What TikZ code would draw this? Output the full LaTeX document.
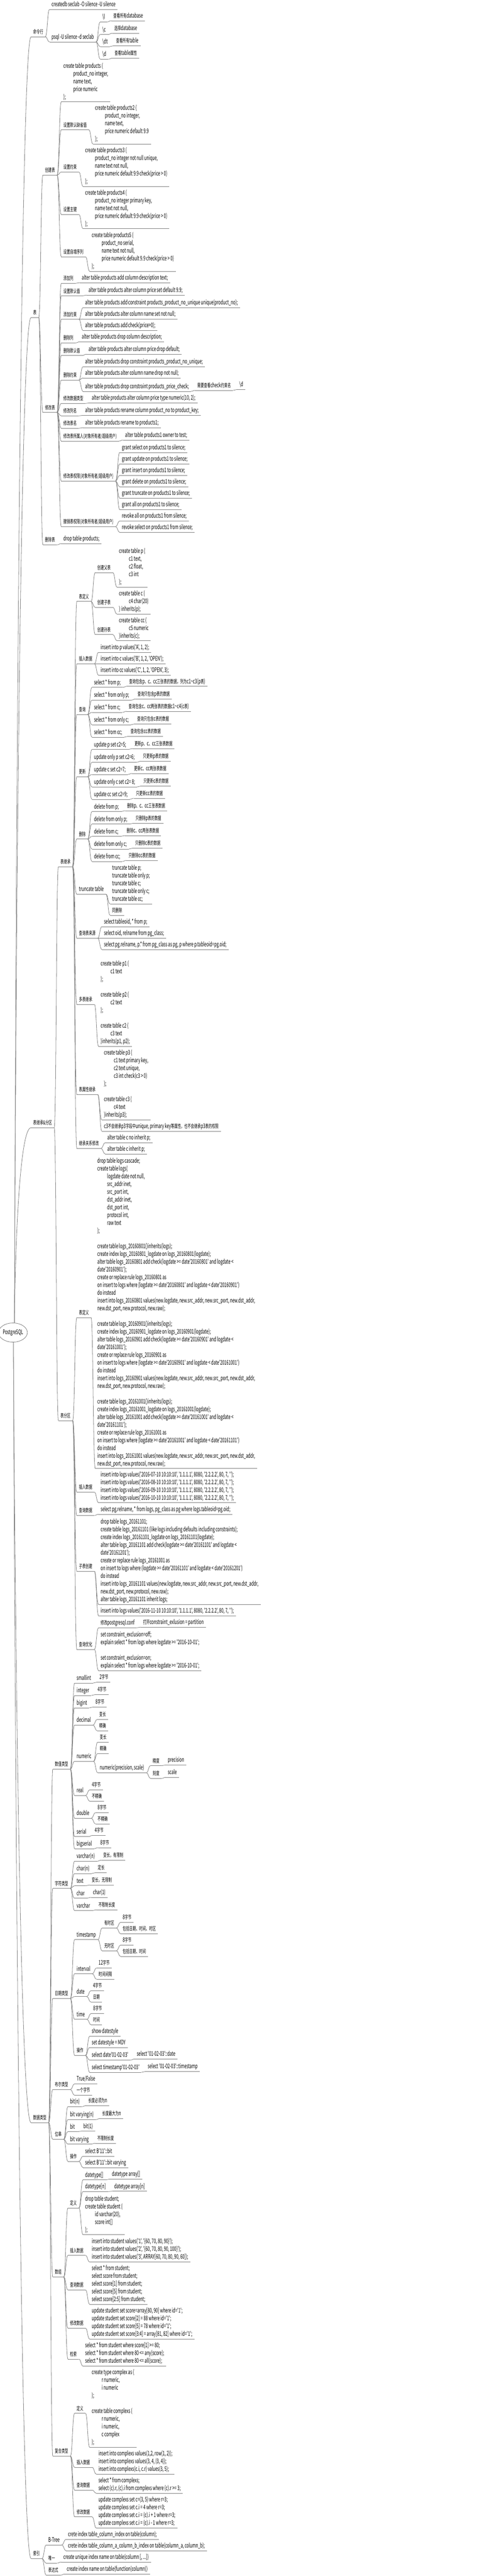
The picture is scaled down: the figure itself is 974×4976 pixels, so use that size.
\documentclass[tikz,border=0pt]{standalone}
\usepackage{fontspec}
\usetikzlibrary{calc,shapes.geometric}
\newfontfamily\mf[FakeStretch=0.61]{Noto Sans CJK SC}
\newcommand\z[1]{{\fontsize{10.5}{15}\selectfont #1}}
\newcommand\ind{\hspace*{19pt}}
\definecolor{lc}{RGB}{128,128,128}
\tikzset{
  tn/.style={anchor=south west, inner xsep=4pt, inner ysep=1pt, align=left,
    font={\mf\fontsize{12}{15}\selectfont}, execute at end node={\strut}},
  ul/.style={draw=lc, line width=0.8pt},
  cn/.style={draw=lc, line width=0.8pt},
  rootnode/.style={ellipse, draw=lc, line width=0.8pt, fill=white, minimum width=48pt,
    minimum height=37pt, inner sep=0pt, font={\mf\fontsize{12}{15}\selectfont}}
}
\newcommand\kid[5][]{%
  \path let \p1=(#3.south east) in node[tn,#1] (#2) at (\x1+8pt,-#4pt) {#5};
  \draw[ul] (#2.south west) -- (#2.south east);
  \draw[cn] (#3.south east) .. controls +(4pt,0) and +(-4pt,0) .. (#2.south west);
}
\newcommand\lone[3]{%
  \node[tn] (#1) at (60pt,-#2pt) {#3};
  \draw[ul] (#1.south west) -- (#1.south east);
}
\begin{document}
\begin{tikzpicture}
\fill[white] (0,0) rectangle (974pt,-4976pt);
\useasboundingbox (0,0) rectangle (974pt,-4976pt);

% ---------- level 1 ----------
\lone{A}{71}{\z{命令行}}
\lone{B}{613.3}{\z{表}}
\lone{C}{2178.3}{\z{表继承\&分区}}
\lone{D}{4100.3}{\z{数据类型}}
\lone{E}{4942.3}{\z{索引}}

% ---------- 命令行 ----------
\kid{A1}{A}{18.3}{createdb seclab -O silence -U silence}
\kid{A2}{A}{81}{psql -U silence -d seclab}
\kid[minimum width=13pt]{A21}{A2}{42.3}{\textbackslash l}
\kid{A211}{A21}{40}{\z{查看所有}database}
\kid[minimum width=13pt]{A22}{A2}{66.7}{\textbackslash c}
\kid{A221}{A22}{64.3}{\z{选择}database}
\kid[minimum width=13pt]{A23}{A2}{90}{\textbackslash dt}
\kid{A231}{A23}{88.3}{\z{查看所有}table}
\kid[minimum width=13pt]{A24}{A2}{114.3}{\textbackslash d}
\kid{A241}{A24}{112.3}{\z{查看}table\z{属性}}

% ---------- 表 ----------
\kid{B1}{B}{338.3}{\z{创建表}}
\kid{B11}{B1}{196.7}{create table products (\\\ind product\_no integer,\\\ind name text,\\\ind price numeric\\);}
\kid{B12}{B1}{250.7}{\z{设置默认缺省值}}
\kid{B121}{B12}{278.3}{create table products2 (\\\ind product\_no integer,\\\ind name text,\\\ind price numeric default 9.9\\);}
\kid{B13}{B1}{332.3}{\z{设置约束}}
\kid{B131}{B13}{360}{create table products3 (\\\ind product\_no integer not null unique,\\\ind name text not null,\\\ind price numeric default 9.9 check(price > 0)\\);}
\kid{B14}{B1}{414.3}{\z{设置主键}}
\kid{B141}{B14}{441.7}{create table products4 (\\\ind product\_no integer primary key,\\\ind name text not null,\\\ind price numeric default 9.9 check(price > 0)\\);}
\kid{B15}{B1}{496}{\z{设置自增序列}}
\kid{B151}{B15}{524}{create table products5 (\\\ind product\_no serial,\\\ind name text not null,\\\ind price numeric default 9.9 check(price > 0)\\);}

\kid{B2}{B}{796.7}{\z{修改表}}
\kid{B21}{B2}{547.3}{\z{添加列}}
\kid{B211}{B21}{546}{alter table products add column description text;}
\kid{B22}{B2}{571.7}{\z{设置默认值}}
\kid{B221}{B22}{570}{alter table products alter column price set default 9.9;}
\kid{B23}{B2}{616.7}{\z{添加约束}}
\kid{B231}{B23}{594.3}{alter table products add constraint products\_product\_no\_unique unique(product\_no);}
\kid{B232}{B23}{616.3}{alter table products alter column name set not null;}
\kid{B233}{B23}{638.3}{alter table products add check(price>0);}
\kid{B24}{B2}{662.3}{\z{删除列}}
\kid{B241}{B24}{660.3}{alter table products drop column description;}
\kid{B25}{B2}{686.7}{\z{删除默认值}}
\kid{B251}{B25}{684.3}{alter table products alter column price drop default;}
\kid{B26}{B2}{734.3}{\z{删除约束}}
\kid{B261}{B26}{708.3}{alter table products drop constraint products\_product\_no\_unique;}
\kid{B262}{B26}{730}{alter table products alter column name drop not null;}
\kid{B263}{B26}{756}{alter table products drop constraint products\_price\_check;}
\kid{B2631}{B263}{754}{\z{需要查看}check\z{约束名}}
\kid{B2632}{B2631}{752.3}{\textbackslash d}
\kid{B27}{B2}{779.3}{\z{修改数据类型}}
\kid{B271}{B27}{778.3}{alter table products alter column price type numeric(10, 2);}
\kid{B28}{B2}{803.3}{\z{修改列名}}
\kid{B281}{B28}{802.3}{alter table products rename column product\_no to product\_key;}
\kid{B29}{B2}{827.3}{\z{修改表名}}
\kid{B291}{B29}{826}{alter table products rename to products1;}
\kid{B2a}{B2}{852}{\z{修改表所属人(对象所有者/超级用户)}}
\kid{B2a1}{B2a}{850}{alter table products1 owner to test;}
\kid{B2b}{B2}{929.3}{\z{修改表权限(对象所有者/超级用户)}}
\kid{B2b1}{B2b}{874}{grant select on products1 to silence;}
\kid{B2b2}{B2b}{896}{grant update on products1 to silence;}
\kid{B2b3}{B2b}{918.3}{grant insert on products1 to silence;}
\kid{B2b4}{B2b}{940.3}{grant delete on products1 to silence;}
\kid{B2b5}{B2b}{962.3}{grant truncate on products1 to silence;}
\kid{B2b6}{B2b}{984.3}{grant all on products1 to silence;}
\kid{B2c}{B2}{1017.3}{\z{撤销表权限(对象所有者/超级用户)}}
\kid{B2c1}{B2c}{1006.3}{revoke all on products1 from silence;}
\kid{B2c2}{B2c}{1028.3}{revoke select on products1 from silence;}
\kid{B3}{B}{1052.3}{\z{删除表}}
\kid{B31}{B3}{1050}{drop table products;}

% ---------- 表继承&分区 ----------
\kid{C1}{C}{1674.3}{\z{表继承}}
\kid{C11}{C1}{1161.7}{\z{表定义}}
\kid{C111}{C11}{1106}{\z{创建父表}}
\kid{C1111}{C111}{1134}{create table p (\\\ind c1 text,\\\ind c2 float,\\\ind c3 int\\);}
\kid{C112}{C11}{1173.3}{\z{创建子表}}
\kid{C1121}{C112}{1186}{create table c (\\\ind c4 char(20)\\) inherits(p);}
\kid{C113}{C11}{1225.7}{\z{创建孙表}}
\kid{C1131}{C113}{1237.7}{create table cc (\\\ind c5 numeric\\)inherits(c);}
\kid{C12}{C1}{1282.3}{\z{插入数据}}
\kid{C121}{C12}{1260}{insert into p values('A', 1, 2);}
\kid{C122}{C12}{1282.3}{insert into c values('B', 1, 2, 'OPEN');}
\kid{C123}{C12}{1304.3}{insert into cc values('C', 1, 2, 'OPEN', 3);}
\kid{C13}{C1}{1380}{\z{查询}}
\kid{C131}{C13}{1327.7}{select * from p;}
\kid{C1311}{C131}{1325.7}{\z{查询包含}p\z{、}c\z{、}cc\z{三张表的数据，列为}c1\textasciitilde c3(p\z{表})}
\kid{C132}{C13}{1352.3}{select * from only p;}
\kid{C1321}{C132}{1350.3}{\z{查询只包含}p\z{表的数据}}
\kid{C133}{C13}{1376}{select * from c;}
\kid{C1331}{C133}{1374}{\z{查询包含}c\z{、}cc\z{两张表的数据}c1\textasciitilde c4(c\z{表})}
\kid{C134}{C13}{1400}{select * from only c;}
\kid{C1341}{C134}{1398.3}{\z{查询只包含}c\z{表的数据}}
\kid{C135}{C13}{1424}{select * from cc;}
\kid{C1351}{C135}{1422.3}{\z{查询包含}cc\z{表的数据}}
\kid{C14}{C1}{1500.3}{\z{更新}}
\kid{C141}{C14}{1447.7}{update p set c2=5;}
\kid{C1411}{C141}{1446}{\z{更新}p\z{、}c\z{、}cc\z{三张表数据}}
\kid{C142}{C14}{1472.3}{update only p set c2=6;}
\kid{C1421}{C142}{1470.3}{\z{只更新}p\z{表的数据}}
\kid{C143}{C14}{1496}{update c set c2=7;}
\kid{C1431}{C143}{1494}{\z{更新}c\z{、}cc\z{两张表数据}}
\kid{C144}{C14}{1520}{update only c set c2= 8;}
\kid{C1441}{C144}{1518.3}{\z{只更新}c\z{表的数据}}
\kid{C145}{C14}{1544}{update cc set c2=9;}
\kid{C1451}{C145}{1542}{\z{只更新}cc\z{表的数据}}
\kid{C15}{C1}{1620.7}{\z{删除}}
\kid{C151}{C15}{1567.7}{delete from p;}
\kid{C1511}{C151}{1566}{\z{删除}p\z{、}c\z{、}cc\z{三张表数据}}
\kid{C152}{C15}{1591.7}{delete from only p;}
\kid{C1521}{C152}{1590.3}{\z{只删除}p\z{表的数据}}
\kid{C153}{C15}{1615.7}{delete from c;}
\kid{C1531}{C153}{1614}{\z{删除}c\z{、}cc\z{两张表数据}}
\kid{C154}{C15}{1640}{delete from only c;}
\kid{C1541}{C154}{1638.3}{\z{只删除}c\z{表的数据}}
\kid{C155}{C15}{1664}{delete from cc;}
\kid{C1551}{C155}{1662}{\z{只删除}cc\z{表的数据}}
\kid{C16}{C1}{1727.3}{truncate table}
\kid{C161}{C16}{1746}{truncate table p;\\truncate table only p;\\truncate table c;\\truncate table only c;\\truncate table cc;}
\kid{C162}{C16}{1768}{\z{同删除}}
\kid{C17}{C1}{1812.3}{\z{查询表来源}}
\kid{C171}{C17}{1790}{select tableoid, * from p;}
\kid{C172}{C17}{1812.3}{select oid, relname from pg\_class;}
\kid{C173}{C17}{1834}{select pg.relname, p.* from pg\_class as pg, p where p.tableoid=pg.oid;}
\kid{C18}{C1}{1940}{\z{多表继承}}
\kid{C181}{C18}{2021}{create table p1 (\\\ind c1 text\\);\\[15pt]create table p2 (\\\ind c2 text\\);\\[15pt]create table c2 (\\\ind c3 text\\)inherits(p1, p2);}
\kid{C19}{C1}{2114.3}{\z{表属性继承}}
\kid{C191}{C19}{2163.3}{create table p3 (\\\ind c1 text primary key,\\\ind c2 text unique,\\\ind c3 int check(c3 > 0)\\);\\[15pt]create table c3 (\\\ind c4 text\\)inherits(p3);}
\kid{C192}{C19}{2185}{c3\z{不会继承}p3\z{字段中}unique, primary key\z{等属性，也不会继承}p3\z{表的权限}}
\kid{C1a}{C1}{2218.3}{\z{继承关系修改}}
\kid{C1a1}{C1a}{2207.3}{alter table c no inherit p;}
\kid{C1a2}{C1a}{2229}{alter table c inherit p;}

\kid{C2}{C}{2744}{\z{表分区}}
\kid{C21}{C2}{2545}{\z{表定义}}
\kid{C211}{C21}{2836.7}{drop table logs cascade;\\create table logs(\\\ind logdate date not null,\\\ind src\_addr inet,\\\ind src\_port int,\\\ind dst\_addr inet,\\\ind dst\_port int,\\\ind protocol int,\\\ind raw text\\);\\[15pt]%
create table logs\_20160801()inherits(logs);\\create index logs\_20160801\_logdate on logs\_20160801(logdate);\\alter table logs\_20160801 add check(logdate >= date'20160801' and logdate <\\date'20160901');\\create or replace rule logs\_20160801 as\\on insert to logs where (logdate >= date'20160801' and logdate < date'20160901')\\do instead\\insert into logs\_20160801 values(new.logdate, new.src\_addr, new.src\_port, new.dst\_addr,\\new.dst\_port, new.protocol, new.raw);\\[15pt]%
create table logs\_20160901()inherits(logs);\\create index logs\_20160901\_logdate on logs\_20160901(logdate);\\alter table logs\_20160901 add check(logdate >= date'20160901' and logdate <\\date'20161001');\\create or replace rule logs\_20160901 as\\on insert to logs where (logdate >= date'20160901' and logdate < date'20161001')\\do instead\\insert into logs\_20160901 values(new.logdate, new.src\_addr, new.src\_port, new.dst\_addr,\\new.dst\_port, new.protocol, new.raw);\\[15pt]%
create table logs\_20161001()inherits(logs);\\create index logs\_20161001\_logdate on logs\_20161001(logdate);\\alter table logs\_20161001 add check(logdate >= date'20161001' and logdate <\\date'20161101');\\create or replace rule logs\_20161001 as\\on insert to logs where (logdate >= date'20161001' and logdate < date'20161101')\\do instead\\insert into logs\_20161001 values(new.logdate, new.src\_addr, new.src\_port, new.dst\_addr,\\new.dst\_port, new.protocol, new.raw);}
\kid{C22}{C2}{2882.3}{\z{插入数据}}
\kid{C221}{C22}{2902.7}{insert into logs values('2016-07-10 10:10:10', '1.1.1.1', 8080, '2.2.2.2', 80, 7, '');\\insert into logs values('2016-08-10 10:10:10', '1.1.1.1', 8080, '2.2.2.2', 80, 7, '');\\insert into logs values('2016-09-10 10:10:10', '1.1.1.1', 8080, '2.2.2.2', 80, 7, '');\\insert into logs values('2016-10-10 10:10:10', '1.1.1.1', 8080, '2.2.2.2', 80, 7, '');}
\kid{C23}{C2}{2927.3}{\z{查询数据}}
\kid{C231}{C23}{2925}{select pg.relname, * from logs, pg\_class as pg where logs.tableoid=pg.oid;}
\kid{C24}{C2}{3035}{\z{子表创建}}
\kid{C241}{C24}{3099}{drop table logs\_20161101;\\create table logs\_20161101 (like logs including defaults including constraints);\\create index logs\_20161101\_logdate on logs\_20161101(logdate);\\alter table logs\_20161101 add check(logdate >= date'20161101' and logdate <\\date'20161201');\\create or replace rule logs\_20161001 as\\on insert to logs where (logdate >= date'20161101' and logdate < date'20161201')\\do instead\\insert into logs\_20161101 values(new.logdate, new.src\_addr, new.src\_port, new.dst\_addr,\\new.dst\_port, new.protocol, new.raw);\\alter table logs\_20161101 inherit logs;}
\kid{C242}{C24}{3121}{insert into logs values('2016-11-10 10:10:10', '1.1.1.1', 8080, '2.2.2.2', 80, 7, '');}
\kid{C25}{C2}{3186}{\z{查询优化}}
\kid{C251}{C25}{3144.3}{\z{修改}postgresql.conf}
\kid{C2511}{C251}{3143}{\z{打开}constraint\_exlusion = partition}
\kid{C252}{C25}{3227}{set constraint\_exclusion=off;\\explain select * from logs where logdate >= '2016-10-01';\\[15pt]set constraint\_exclusion=on;\\explain select * from logs where logdate >= '2016-10-01';}

% ---------- 数据类型 ----------
\kid{D1}{D}{3417.3}{\z{数值类型}}
\kid{D11}{D1}{3251}{smallint}
\kid{D111}{D11}{3249.3}{2\z{字节}}
\kid{D12}{D1}{3275}{integer}
\kid{D121}{D12}{3273.3}{4\z{字节}}
\kid{D13}{D1}{3299}{bigint}
\kid{D131}{D13}{3297.3}{8\z{字节}}
\kid{D14}{D1}{3332.3}{decimal}
\kid{D141}{D14}{3321.3}{\z{变长}}
\kid{D142}{D14}{3343.3}{\z{精确}}
\kid{D15}{D1}{3402.3}{numeric}
\kid{D151}{D15}{3365}{\z{变长}}
\kid{D152}{D15}{3387.3}{\z{精确}}
\kid{D153}{D15}{3424.3}{numeric(precision, scale)}
\kid{D1531}{D153}{3410.7}{\z{精度}}
\kid{D15311}{D1531}{3409.3}{precision}
\kid{D1532}{D153}{3435.3}{\z{刻度}}
\kid{D15321}{D1532}{3433.3}{scale}
\kid{D16}{D1}{3468.3}{real}
\kid{D161}{D16}{3457.3}{4\z{字节}}
\kid{D162}{D16}{3479.3}{\z{不精确}}
\kid{D17}{D1}{3512.3}{double}
\kid{D171}{D17}{3501.3}{8\z{字节}}
\kid{D172}{D17}{3523.3}{\z{不精确}}
\kid{D18}{D1}{3547.7}{serial}
\kid{D181}{D18}{3545.3}{4\z{字节}}
\kid{D19}{D1}{3571}{bigserial}
\kid{D191}{D19}{3569}{8\z{字节}}

\kid{D2}{D}{3647.7}{\z{字符类型}}
\kid{D21}{D2}{3595.3}{varchar(n)}
\kid{D211}{D21}{3593.3}{\z{变长，有限制}}
\kid{D22}{D2}{3619}{char(n)}
\kid{D221}{D22}{3617.3}{\z{定长}}
\kid{D23}{D2}{3642.7}{text}
\kid{D231}{D23}{3641}{\z{变长，无限制}}
\kid{D24}{D2}{3666.7}{char}
\kid{D241}{D24}{3665}{char(1)}
\kid{D25}{D2}{3690.7}{varchar}
\kid{D251}{D25}{3689}{\z{不限制长度}}

\kid{D3}{D}{3860.3}{\z{日期类型}}
\kid{D31}{D3}{3746.7}{timestamp}
\kid{D311}{D31}{3724.3}{\z{有时区}}
\kid{D3111}{D311}{3713.3}{8\z{字节}}
\kid{D3112}{D311}{3735.3}{\z{包括日期、时间、时区}}
\kid{D312}{D31}{3768.3}{\z{无时区}}
\kid{D3121}{D312}{3757.3}{8\z{字节}}
\kid{D3122}{D312}{3779}{\z{包括日期、时间}}
\kid{D32}{D3}{3812.7}{interval}
\kid{D321}{D32}{3801.3}{12\z{字节}}
\kid{D322}{D32}{3823.3}{\z{时间间隔}}
\kid{D33}{D3}{3856.7}{date}
\kid{D331}{D33}{3845.3}{4\z{字节}}
\kid{D332}{D33}{3867.3}{\z{日期}}
\kid{D34}{D3}{3900.7}{time}
\kid{D341}{D34}{3889.3}{8\z{字节}}
\kid{D342}{D34}{3911.3}{\z{时间}}
\kid{D35}{D3}{3970.3}{\z{操作}}
\kid{D351}{D35}{3933.3}{show datestyle}
\kid{D352}{D35}{3955}{set datestyle = MDY}
\kid{D353}{D35}{3979.3}{select date'01-02-03'}
\kid{D3531}{D353}{3977.3}{select '01-02-03'::date}
\kid{D354}{D35}{4003}{select timestamp'01-02-03'}
\kid{D3541}{D354}{4001.3}{select '01-02-03'::timestamp}

\kid{D4}{D}{4036.3}{\z{布尔类型}}
\kid{D41}{D4}{4025.3}{True/False}
\kid{D42}{D4}{4047.3}{\z{一个字节}}

\kid{D5}{D}{4132.3}{\z{位串}}
\kid{D51}{D5}{4069.3}{bit(n)}
\kid{D511}{D51}{4067.3}{\z{长度必须为}n}
\kid{D52}{D5}{4094.3}{bit varying(n)}
\kid{D521}{D52}{4092.3}{\z{长度最大为}n}
\kid{D53}{D5}{4117.7}{bit}
\kid{D531}{D53}{4116.7}{bit(1)}
\kid{D54}{D5}{4141.7}{bit varying}
\kid{D541}{D54}{4140}{\z{不限制长度}}
\kid{D55}{D5}{4175}{\z{操作}}
\kid{D551}{D55}{4165}{select B'11'::bit}
\kid{D552}{D55}{4187}{select B'11'::bit varying}

\kid{D6}{D}{4398.3}{\z{数组}}
\kid{D61}{D6}{4265}{\z{定义}}
\kid{D611}{D61}{4210.7}{datetype[]}
\kid{D6111}{D611}{4209.3}{datetype array[]}
\kid{D612}{D61}{4233.3}{datetype[n]}
\kid{D6121}{D612}{4232.7}{datetype array[n]}
\kid{D613}{D61}{4316.7}{drop table student;\\create table student (\\\ind id varchar(20),\\\ind score int[]\\);}
\kid{D62}{D6}{4356.7}{\z{插入数据}}
\kid{D621}{D62}{4369.3}{insert into student values('1', '\{60, 70, 80, 90\}');\\insert into student values('2', '\{60, 70, 80, 90, 100\}');\\insert into student values('3', ARRAY[60, 70, 80, 90, 60]);}
\kid{D63}{D6}{4423.3}{\z{查询数据}}
\kid{D631}{D63}{4451}{select * from student;\\select score from student;\\select score[1] from student;\\select score[5] from student;\\select score[2:5] from student;}
\kid{D64}{D6}{4497.3}{\z{修改数据}}
\kid{D641}{D64}{4518.3}{update student set score=array[80, 90] where id='1';\\update student set score[2] = 88 where id='1';\\update student set score[5] = 78 where id='1';\\update student set score[3:4] = array[81, 82] where id='1';}
\kid{D65}{D6}{4557}{\z{检索}}
\kid{D651}{D65}{4570.5}{select * from student where score[1] >= 80;\\select * from student where 80 <= any(score);\\select * from student where 80 <= all(score);}

\kid{D7}{D}{4744.3}{\z{复合类型}}
\kid{D71}{D7}{4661.7}{\z{定义}}
\kid{D711}{D71}{4727.3}{create type complex as (\\\ind r numeric,\\\ind i numeric\\);\\[15pt]create table complexs (\\\ind r numeric,\\\ind i numeric,\\\ind c complex\\);}
\kid{D72}{D7}{4766}{\z{插入数据}}
\kid{D721}{D72}{4779}{insert into complexs values(1,2, row(1, 2));\\insert into complexs values(3, 4, (3, 4));\\insert into complexs(c.i, c.r) values(3, 5);}
\kid{D73}{D7}{4810}{\z{查询数据}}
\kid{D731}{D73}{4816}{select * from complexs;\\select (c).r, (c).i from complexs where (c).r >= 3;}
\kid{D74}{D7}{4861.7}{\z{修改数据}}
\kid{D741}{D74}{4883.3}{update complexs set c=(3, 5) where r=3;\\update complexs set c.i = 4 where r=3;\\update complexs set c.i = (c).i + 1 where r=3;\\update complexs set c.i = (c).i - 1 where r=3;}

% ---------- 索引 ----------
\kid{E1}{E}{4916}{B-Tree}
\kid{E11}{E1}{4905}{crete index table\_column\_index on table(column);}
\kid{E12}{E1}{4927}{crete index table\_column\_a\_column\_b\_index on table(column\_a, column\_b);}
\kid{E2}{E}{4951}{\z{唯一}}
\kid{E21}{E2}{4949}{create unique index name on table(column [, ...])}
\kid{E3}{E}{4974.3}{\z{表达式}}
\kid{E31}{E3}{4972.3}{create index name on table(function(column))}

% ---------- root ----------
\coordinate (Rc) at (25pt,-2574pt);
\coordinate (Rt) at (28pt,-2555.5pt);
\coordinate (Rb) at (26pt,-2592.5pt);
\draw[cn] (Rt) .. controls +(0,80pt) and +(-25pt,0) .. (A.south west);
\draw[cn] (Rt) .. controls +(0,80pt) and +(-25pt,0) .. (B.south west);
\draw[cn] (Rt) .. controls +(0,80pt) and +(-25pt,0) .. (C.south west);
\draw[cn] (Rb) .. controls +(0,-80pt) and +(-25pt,0) .. (D.south west);
\draw[cn] (Rb) .. controls +(0,-80pt) and +(-25pt,0) .. (E.south west);
\node[rootnode] (R) at (Rc) {PostgreSQL};
\end{tikzpicture}
\end{document}
